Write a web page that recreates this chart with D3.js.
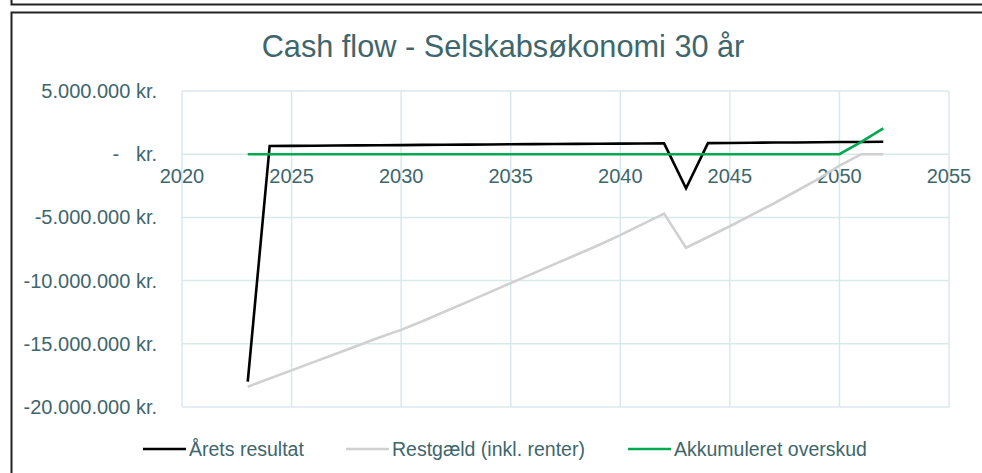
<!DOCTYPE html>
<html>
<head>
<meta charset="utf-8">
<script src="https://cdn.jsdelivr.net/npm/d3@7"></script>
<style>
  body { margin: 0; background: #fff; }
  svg { display: block; font-family: "Liberation Sans", Arial, sans-serif; }
</style>
</head>
<body>
<div id="chart"></div>
<script>
// values, in millions of kr.
var years = [2023, 2024, 2025, 2026, 2027, 2028, 2029, 2030, 2031, 2032,
             2033, 2034, 2035, 2036, 2037, 2038, 2039, 2040, 2041, 2042,
             2043, 2044, 2045, 2046, 2047, 2048, 2049, 2050, 2051, 2052];

var aretsResultat = [-18.0, 0.65, 0.66, 0.67, 0.69, 0.70, 0.71, 0.72, 0.74, 0.75,
                     0.76, 0.77, 0.79, 0.80, 0.81, 0.82, 0.83, 0.84, 0.85, 0.86,
                     -2.7, 0.88, 0.89, 0.91, 0.92, 0.93, 0.95, 0.96, 0.97, 0.98];

var restgaeld = [-18.4, -17.75, -17.1, -16.45, -15.8, -15.15, -14.5, -13.9, -13.2, -12.45,
                 -11.7, -10.95, -10.2, -9.45, -8.7, -7.95, -7.2, -6.4, -5.55, -4.7,
                 -7.4, -6.55, -5.7, -4.8, -3.9, -2.95, -2.0, -0.9, 0, 0];

var akkumuleret = [0, 0, 0, 0, 0, 0, 0, 0, 0, 0,
                   0, 0, 0, 0, 0, 0, 0, 0, 0, 0,
                   0, 0, 0, 0, 0, 0, 0, 0, 0.97, 2.05];

var seriesNames = ["Årets resultat", "Restgæld (inkl. renter)", "Akkumuleret overskud"];
var seriesColors = ["#000000", "#d0d0d0", "#00a84f"];

var xTicks = [2020, 2025, 2030, 2035, 2040, 2045, 2050, 2055];
var yTicks = [5, 0, -5, -10, -15, -20];

var width = 982, height = 473;
var textColor = "#3e666c";
var gridColor = "#d8e9ec";

var svg = d3.select("#chart").append("svg")
    .attr("width", width)
    .attr("height", height);

// frames (bottom of the chart above + this chart's box)
svg.append("path")
    .attr("d", "M11.5,0 V4.5 H982")
    .attr("fill", "none").attr("stroke", "#222").attr("stroke-width", 2);
svg.append("path")
    .attr("d", "M11.5,473 V12.5 H982")
    .attr("fill", "none").attr("stroke", "#222").attr("stroke-width", 2);

var x = d3.scaleLinear().domain([2020, 2055]).range([182, 949]);
var y = d3.scaleLinear().domain([-20, 5]).range([407, 91]);

// title
svg.append("text")
    .attr("x", 503)
    .attr("y", 57)
    .attr("text-anchor", "middle")
    .attr("fill", textColor)
    .style("font-size", "30.7px")
    .text("Cash flow - Selskabsøkonomi 30 år");

// gridlines
svg.append("g").selectAll("line")
    .data(yTicks)
    .enter().append("line")
    .attr("x1", x(2020)).attr("x2", x(2055))
    .attr("y1", d => y(d)).attr("y2", d => y(d))
    .attr("stroke", gridColor).attr("stroke-width", 1.5);

svg.append("g").selectAll("line")
    .data(xTicks)
    .enter().append("line")
    .attr("x1", d => x(d)).attr("x2", d => x(d))
    .attr("y1", y(5)).attr("y2", y(-20))
    .attr("stroke", gridColor).attr("stroke-width", 1.5);

// y labels, accounting style
var fmt = function(v) {
    if (v === 0) return "-   kr.";
    var s = d3.format(",")(Math.abs(v) * 1000000).replace(/,/g, ".");
    return (v < 0 ? "-" : "") + s + " kr.";
};
svg.append("g").selectAll("text")
    .data(yTicks)
    .enter().append("text")
    .attr("x", 157)
    .attr("y", d => y(d) + 7)
    .attr("text-anchor", "end")
    .attr("fill", textColor)
    .style("font-size", "20px")
    .style("white-space", "pre")
    .text(d => fmt(d));

// x labels sit under the zero line
svg.append("g").selectAll("text")
    .data(xTicks)
    .enter().append("text")
    .attr("x", d => x(d))
    .attr("y", y(0) + 29)
    .attr("text-anchor", "middle")
    .attr("fill", textColor)
    .style("font-size", "20px")
    .text(d => d);

// lines
var allSeries = [aretsResultat, restgaeld, akkumuleret];
var line = d3.line()
    .x((d, i) => x(years[i]))
    .y(d => y(d));

allSeries.forEach(function(s, i) {
    svg.append("path")
        .datum(s)
        .attr("d", line)
        .attr("fill", "none")
        .attr("stroke", seriesColors[i])
        .attr("stroke-width", 2.6)
        .attr("stroke-linejoin", "miter");
});

// legend
var legendX = [143, 346, 628];
seriesNames.forEach(function(name, i) {
    svg.append("line")
        .attr("x1", legendX[i]).attr("x2", legendX[i] + 43)
        .attr("y1", 449).attr("y2", 449)
        .attr("stroke", seriesColors[i])
        .attr("stroke-width", 2.6);
    svg.append("text")
        .attr("x", legendX[i] + 46)
        .attr("y", 456)
        .attr("fill", textColor)
        .style("font-size", "19.5px")
        .text(name);
});
</script>
</body>
</html>
